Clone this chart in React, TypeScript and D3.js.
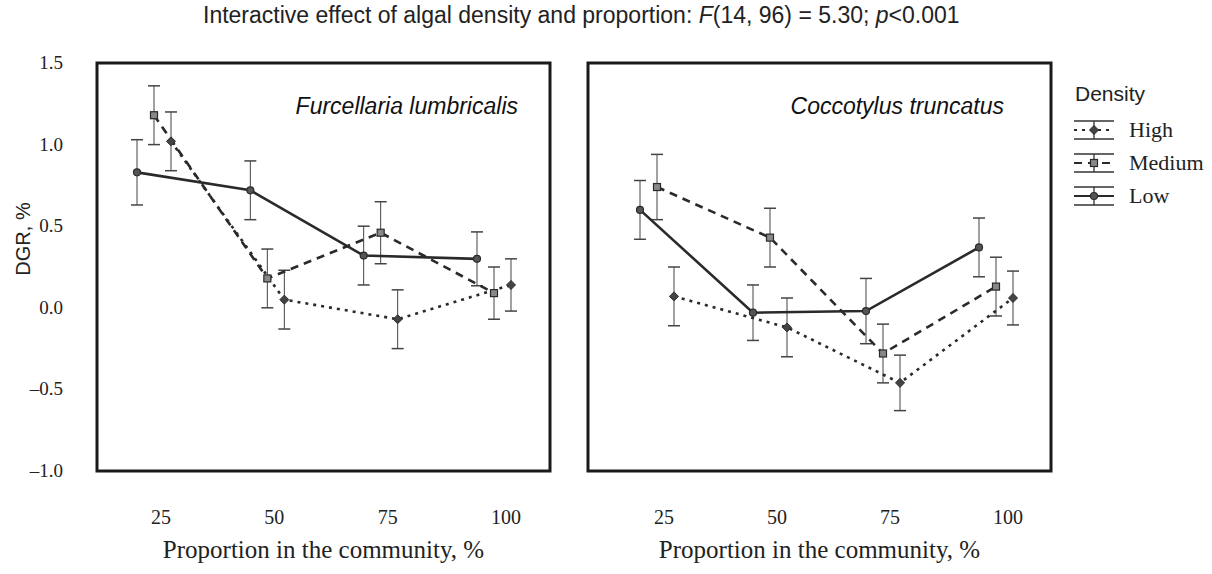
import React from 'react';
import * as d3 from 'd3';

const proportions = ['25', '50', '75', '100'];
const yTicks = [1.5, 1.0, 0.5, 0.0, -0.5, -1.0];
const densities = ['High', 'Medium', 'Low'];

// Furcellaria lumbricalis
const furLow = [0.83, 0.72, 0.32, 0.30];
const furLowErr = [0.2, 0.18, 0.18, 0.165];
const furMedium = [1.18, 0.18, 0.46, 0.09];
const furMediumErr = [0.18, 0.18, 0.19, 0.16];
const furHigh = [1.02, 0.05, -0.07, 0.14];
const furHighErr = [0.18, 0.18, 0.18, 0.16];

// Coccotylus truncatus
const cocLow = [0.6, -0.03, -0.02, 0.37];
const cocLowErr = [0.18, 0.17, 0.2, 0.18];
const cocMedium = [0.74, 0.43, -0.28, 0.13];
const cocMediumErr = [0.2, 0.18, 0.18, 0.18];
const cocHigh = [0.07, -0.12, -0.46, 0.06];
const cocHighErr = [0.18, 0.18, 0.17, 0.165];

const SANS = '"Liberation Sans", Arial, sans-serif';
const SERIF = '"Liberation Serif", "Times New Roman", serif';
const INK = '#2a2a2a';

const TOP = 63;
const BOTTOM = 471;

const styles: Record<string, { dash: string; offset: number }> = {
  High: { dash: '3,5', offset: 17 },
  Medium: { dash: '8,6', offset: 0 },
  Low: { dash: '', offset: -17 },
};

const y = d3.scaleLinear().domain([-1, 1.5]).range([BOTTOM, TOP]);

const Marker = ({ kind, cx, cy }: { kind: string; cx: number; cy: number }) => {
  if (kind === 'Low') return <circle cx={cx} cy={cy} r={3.5} fill="#555" stroke={INK} strokeWidth={1.2} />;
  if (kind === 'Medium') return <rect x={cx - 3.5} y={cy - 3.5} width={7} height={7} fill="#888" stroke={INK} strokeWidth={1.2} />;
  return <path d={`M${cx},${cy - 4.5}L${cx + 4.5},${cy}L${cx},${cy + 4.5}L${cx - 4.5},${cy}Z`} fill="#444" stroke={INK} strokeWidth={1} />;
};

interface PanelProps {
  x0: number;
  width: number;
  inner: [number, number];
  label: string;
  labelRight: number;
  series: Record<string, { values: number[]; err: number[] }>;
}

const Panel = ({ x0, width, inner, label, labelRight, series }: PanelProps) => {
  const x = d3.scalePoint<string>().domain(proportions).range([x0 + inner[0], x0 + inner[1]]);
  const line = d3.line<number>().y(d => y(d));

  return (
    <g>
      {/* error bars */}
      {densities.map(k => series[k].values.map((v, i) => {
        const cx = (x(proportions[i]) || 0) + styles[k].offset;
        const e = series[k].err[i];
        return (
          <g key={k + i} stroke="#444" strokeWidth={1}>
            <line x1={cx} x2={cx} y1={y(v + e)} y2={y(v - e)} />
            <line x1={cx - 6} x2={cx + 6} y1={y(v + e)} y2={y(v + e)} strokeWidth={1.5} />
            <line x1={cx - 6} x2={cx + 6} y1={y(v - e)} y2={y(v - e)} strokeWidth={1.5} />
          </g>
        );
      }))}
      {/* lines */}
      {densities.map(k => (
        <path
          key={k}
          d={line.x((_, i) => (x(proportions[i]) || 0) + styles[k].offset)(series[k].values) || ''}
          fill="none"
          stroke={INK}
          strokeWidth={2.6}
          strokeDasharray={styles[k].dash || undefined}
        />
      ))}
      {/* markers */}
      {densities.map(k => series[k].values.map((v, i) => (
        <Marker key={k + i} kind={k} cx={(x(proportions[i]) || 0) + styles[k].offset} cy={y(v)} />
      )))}
      <rect x={x0} y={TOP} width={width} height={BOTTOM - TOP} fill="none" stroke="#1a1a1a" strokeWidth={3} />
      <text x={labelRight} y={114} textAnchor="end" fontFamily={SANS} fontStyle="italic" fontSize={23} fill="#111">
        {label}
      </text>
      {proportions.map(p => (
        <text key={p} x={(x(p) || 0) - 3} y={524} fontFamily={SERIF} fontSize={20} fill="#222">
          {p}
        </text>
      ))}
      <text x={x0 + width / 2} y={558} textAnchor="middle" fontFamily={SERIF} fontSize={25} fill="#222">
        Proportion in the community, %
      </text>
    </g>
  );
};

const LegendRow = ({ kind, yy }: { kind: string; yy: number }) => {
  const lx = 1074;
  const w = 40;
  return (
    <g>
      <g stroke="#333" strokeWidth={1.3}>
        <line x1={lx} x2={lx + w} y1={yy - 9} y2={yy - 9} />
        <line x1={lx} x2={lx + w} y1={yy + 9} y2={yy + 9} />
        <line x1={lx + w / 2} x2={lx + w / 2} y1={yy - 9} y2={yy + 9} />
      </g>
      <line x1={lx} x2={lx + w} y1={yy} y2={yy} stroke={INK} strokeWidth={2}
        strokeDasharray={styles[kind].dash || undefined} />
      <Marker kind={kind} cx={lx + w / 2} cy={yy} />
      <text x={1129} y={yy + 7} fontFamily={SERIF} fontSize={22} fill="#222">{kind}</text>
    </g>
  );
};

export default function App() {
  return (
    <div style={{ position: 'absolute', left: 0, top: 0 }}>
      <svg width={1212} height={574} style={{ display: 'block', background: '#fff' }}>
        <text x={203} y={23} fontFamily={SANS} fontSize={23} fill="#222">
          Interactive effect of algal density and proportion: <tspan fontStyle="italic">F</tspan>(14, 96) = 5.30; <tspan fontStyle="italic">p</tspan>&lt;0.001
        </text>

        {yTicks.map(t => (
          <text key={t} x={63} y={y(t) + 6} textAnchor="end" fontFamily={SERIF} fontSize={19} fill="#222">
            {t < 0 ? '\u2013' + Math.abs(t).toFixed(1) : t.toFixed(1)}
          </text>
        ))}
        <text transform={`translate(30,239) rotate(-90)`} textAnchor="middle" fontFamily={SANS} fontSize={20} fill="#222">
          DGR, %
        </text>

        <Panel
          x0={97}
          width={453}
          inner={[57, 397]}
          label="Furcellaria lumbricalis"
          labelRight={518}
          series={{
            High: { values: furHigh, err: furHighErr },
            Medium: { values: furMedium, err: furMediumErr },
            Low: { values: furLow, err: furLowErr },
          }}
        />
        <Panel
          x0={588}
          width={463}
          inner={[69, 408]}
          label="Coccotylus truncatus"
          labelRight={1004}
          series={{
            High: { values: cocHigh, err: cocHighErr },
            Medium: { values: cocMedium, err: cocMediumErr },
            Low: { values: cocLow, err: cocLowErr },
          }}
        />

        <text x={1075} y={101} fontFamily={SANS} fontSize={21} fill="#222">Density</text>
        {densities.map((k, i) => (
          <LegendRow key={k} kind={k} yy={130 + i * 33} />
        ))}
      </svg>
    </div>
  );
}
